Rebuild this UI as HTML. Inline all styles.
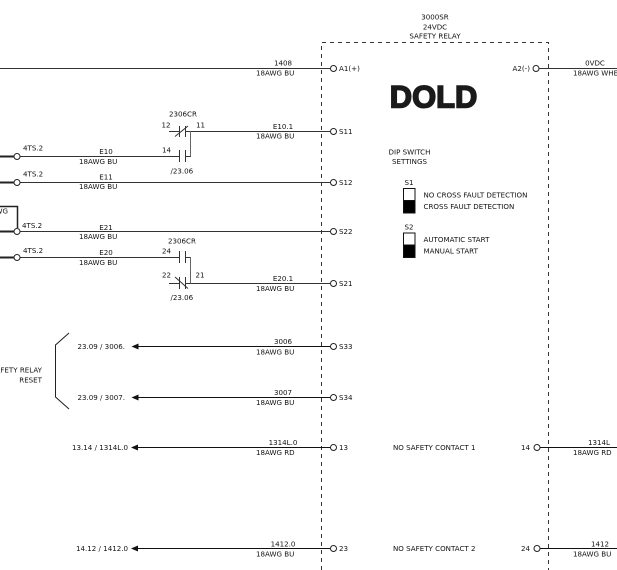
<!DOCTYPE html>
<html><head><meta charset="utf-8"><style>
html,body{margin:0;padding:0;background:#fff;}
svg{display:block;}
text{font-family:"DejaVu Sans","Liberation Sans",sans-serif;font-size:7.1px;fill:#111;}
</style></head><body>
<svg width="617" height="570" viewBox="0 0 617 570" xmlns="http://www.w3.org/2000/svg">
<g fill="none" stroke="#333" stroke-width="1">
<!-- dashed relay box -->
<path d="M321.5 570 V42.5 H548.5 V570" stroke-dasharray="4 4"/>
<!-- wires -->
<line x1="0" y1="68.5" x2="330" y2="68.5"/>
<line x1="539" y1="68.5" x2="617" y2="68.5"/>
<line x1="190" y1="131.5" x2="330" y2="131.5"/>
<line x1="20" y1="156.5" x2="179" y2="156.5"/>
<line x1="20" y1="182.5" x2="330" y2="182.5"/>
<line x1="20" y1="231.5" x2="330" y2="231.5"/>
<line x1="20" y1="257.5" x2="179" y2="257.5"/>
<line x1="190" y1="283.5" x2="330" y2="283.5"/>
<line x1="136" y1="346.5" x2="330" y2="346.5" stroke="#111"/>
<line x1="136" y1="397.5" x2="330" y2="397.5" stroke="#111"/>
<line x1="136" y1="447.5" x2="330" y2="447.5" stroke="#111"/>
<line x1="136" y1="548.5" x2="330" y2="548.5" stroke="#111"/>
<line x1="540" y1="447.5" x2="617" y2="447.5" stroke="#111"/>
<line x1="540" y1="548.5" x2="617" y2="548.5" stroke="#111"/>
<!-- thick left stubs -->
<g stroke-width="2" stroke="#222">
<line x1="0" y1="156.5" x2="14" y2="156.5"/>
<line x1="0" y1="182.5" x2="14" y2="182.5"/>
<line x1="0" y1="231.5" x2="14" y2="231.5"/>
<line x1="0" y1="257.5" x2="14" y2="257.5"/>
</g>
<!-- box near E21 -->
<path d="M0 206.5 H17.5 V228" stroke-width="1.5" stroke="#222"/>
<!-- circles -->
<g stroke="#222">
<circle cx="17" cy="156.5" r="3"/>
<circle cx="17" cy="182.5" r="3"/>
<circle cx="17" cy="231.5" r="3"/>
<circle cx="17" cy="257.5" r="3"/>
<circle cx="333.5" cy="68.5" r="3"/>
<circle cx="536" cy="68.5" r="3"/>
<circle cx="333.5" cy="131.5" r="3"/>
<circle cx="333.5" cy="182.5" r="3"/>
<circle cx="333.5" cy="231.5" r="3"/>
<circle cx="333.5" cy="283.5" r="3"/>
<circle cx="333.5" cy="346.5" r="3"/>
<circle cx="333.5" cy="397.5" r="3"/>
<circle cx="333.5" cy="447.5" r="3"/>
<circle cx="333.5" cy="548.5" r="3"/>
<circle cx="537" cy="447.5" r="3"/>
<circle cx="537" cy="548.5" r="3"/>
</g>
<!-- top contacts 2306CR -->
<line x1="169" y1="131.5" x2="179.5" y2="131.5"/>
<line x1="179.5" y1="126" x2="179.5" y2="137"/>
<line x1="185.5" y1="126" x2="185.5" y2="137"/>
<line x1="175" y1="136.5" x2="188" y2="126"/>
<line x1="185.5" y1="131.5" x2="190.5" y2="131.5"/>
<line x1="190.5" y1="131" x2="190.5" y2="157" stroke="#666"/>
<line x1="179.5" y1="150" x2="179.5" y2="162"/>
<line x1="185.5" y1="150" x2="185.5" y2="162"/>
<line x1="185.5" y1="156.5" x2="190.5" y2="156.5"/>
<!-- bottom contacts 2306CR -->
<line x1="179.5" y1="251" x2="179.5" y2="263"/>
<line x1="185.5" y1="251" x2="185.5" y2="263"/>
<line x1="185.5" y1="257.5" x2="190.5" y2="257.5"/>
<line x1="190.5" y1="257" x2="190.5" y2="284" stroke="#666"/>
<line x1="169" y1="283.5" x2="179.5" y2="283.5"/>
<line x1="179.5" y1="277" x2="179.5" y2="289"/>
<line x1="185.5" y1="277" x2="185.5" y2="289"/>
<line x1="175" y1="277" x2="188" y2="288.5"/>
<line x1="185.5" y1="283.5" x2="190.5" y2="283.5"/>
<!-- bracket -->
<polyline points="69,333 55.5,345 55.5,397 69,409" stroke="#222"/>
</g>
<!-- arrowheads -->
<g fill="#111">
<polygon points="131.5,346.5 138.5,343.5 138.5,349.5"/>
<polygon points="131.5,397.5 138.5,394.5 138.5,400.5"/>
<polygon points="131,447.5 138,444.5 138,450.5"/>
<polygon points="131,548.5 138,545.5 138,551.5"/>
</g>
<!-- DIP switch boxes -->
<g stroke="#111" stroke-width="1">
<rect x="403.5" y="188.5" width="11.5" height="12" fill="#fff"/>
<rect x="403.5" y="200.5" width="11.5" height="12.5" fill="#000"/>
<rect x="403.5" y="233" width="11.5" height="12" fill="#fff"/>
<rect x="403.5" y="245" width="11.5" height="12.5" fill="#000"/>
</g>
<!-- DOLD logo -->
<text x="389.8" y="107.3" style="font-family:'Liberation Sans',sans-serif;font-weight:bold;font-size:31.5px;fill:#1a1a1a;" stroke="#1a1a1a" stroke-width="1.6" textLength="87.5" lengthAdjust="spacingAndGlyphs">DOLD</text>
<!-- title -->
<text x="435" y="19.5" text-anchor="middle">3000SR</text>
<text x="435" y="29.5" text-anchor="middle">24VDC</text>
<text x="435" y="38.5" text-anchor="middle">SAFETY RELAY</text>
<!-- wire labels right side of left column -->
<text x="283" y="65.5" text-anchor="middle">1408</text>
<text x="256" y="75.5">18AWG BU</text>
<text x="283" y="129" text-anchor="middle">E10.1</text>
<text x="256" y="138.5">18AWG BU</text>
<text x="283" y="281" text-anchor="middle">E20.1</text>
<text x="256" y="291">18AWG BU</text>
<text x="283" y="344" text-anchor="middle">3006</text>
<text x="256" y="354.5">18AWG BU</text>
<text x="283" y="395" text-anchor="middle">3007</text>
<text x="256" y="405">18AWG BU</text>
<text x="283" y="445" text-anchor="middle">1314L.0</text>
<text x="256" y="455">18AWG RD</text>
<text x="283" y="546.5" text-anchor="middle">1412.0</text>
<text x="256" y="556.5">18AWG BU</text>
<!-- left wire labels -->
<text x="23" y="150.5">4TS.2</text>
<text x="23" y="176.5">4TS.2</text>
<text x="22" y="228">4TS.2</text>
<text x="23" y="253">4TS.2</text>
<text x="106" y="154" text-anchor="middle">E10</text>
<text x="79" y="164">18AWG BU</text>
<text x="106" y="179.5" text-anchor="middle">E11</text>
<text x="79" y="189">18AWG BU</text>
<text x="106" y="230" text-anchor="middle">E21</text>
<text x="79" y="239">18AWG BU</text>
<text x="106" y="255" text-anchor="middle">E20</text>
<text x="79" y="265">18AWG BU</text>
<text x="8" y="213.5" text-anchor="end">18AWG</text>
<!-- contact labels -->
<text x="169" y="116.5">2306CR</text>
<text x="161.5" y="127.5">12</text>
<text x="196" y="127.5">11</text>
<text x="162" y="152.5">14</text>
<text x="170.5" y="173.5">/23.06</text>
<text x="168" y="243.5">2306CR</text>
<text x="162" y="253.5">24</text>
<text x="162" y="277.5">22</text>
<text x="195.5" y="277.5">21</text>
<text x="170.5" y="300">/23.06</text>
<!-- terminal labels -->
<text x="339" y="71">A1(+)</text>
<text x="530" y="71" text-anchor="end">A2(-)</text>
<text x="339" y="134">S11</text>
<text x="339" y="185">S12</text>
<text x="339" y="234">S22</text>
<text x="339" y="286">S21</text>
<text x="339" y="349">S33</text>
<text x="339" y="400">S34</text>
<text x="339" y="450">13</text>
<text x="339" y="551">23</text>
<text x="530" y="450" text-anchor="end">14</text>
<text x="530" y="551" text-anchor="end">24</text>
<text x="393" y="450">NO SAFETY CONTACT 1</text>
<text x="393" y="551">NO SAFETY CONTACT 2</text>
<!-- right wires -->
<text x="595" y="65.5" text-anchor="middle">0VDC</text>
<text x="573" y="75.5">18AWG WHE</text>
<text x="599" y="445" text-anchor="middle">1314L</text>
<text x="573" y="455">18AWG RD</text>
<text x="600" y="546.5" text-anchor="middle">1412</text>
<text x="573" y="556.5">18AWG BU</text>
<!-- DIP -->
<text x="409.5" y="154.5" text-anchor="middle">DIP SWITCH</text>
<text x="409.5" y="164" text-anchor="middle">SETTINGS</text>
<text x="404.5" y="185">S1</text>
<text x="423.5" y="197.5">NO CROSS FAULT DETECTION</text>
<text x="423.5" y="209">CROSS FAULT DETECTION</text>
<text x="404.5" y="229.5">S2</text>
<text x="423.5" y="242">AUTOMATIC START</text>
<text x="423.5" y="253.5">MANUAL START</text>
<!-- arrows text -->
<text x="125" y="349" text-anchor="end">23.09 / 3006.</text>
<text x="125" y="400" text-anchor="end">23.09 / 3007.</text>
<text x="128" y="450" text-anchor="end">13.14 / 1314L.0</text>
<text x="128" y="551" text-anchor="end">14.12 / 1412.0</text>
<!-- bracket label -->
<text x="42" y="372.5" text-anchor="end">SAFETY RELAY</text>
<text x="42" y="382.5" text-anchor="end">RESET</text>
</svg>
</body></html>
